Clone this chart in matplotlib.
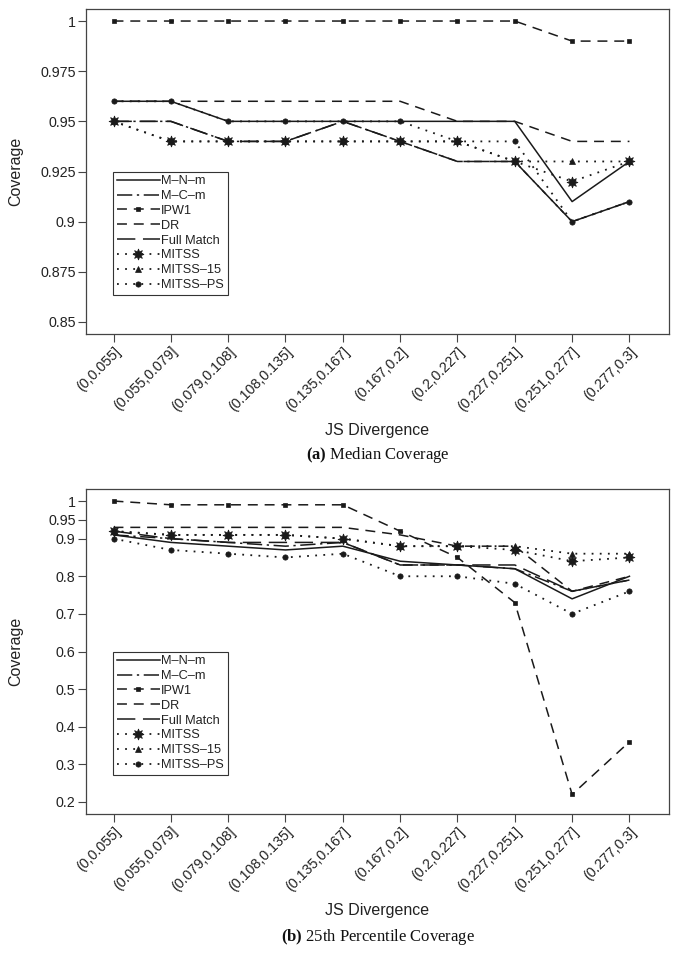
import matplotlib
matplotlib.use("Agg")
import matplotlib.pyplot as plt

plt.rcParams['font.family'] = ['Liberation Sans', 'DejaVu Sans']
plt.rcParams['mathtext.fontset'] = 'custom'
plt.rcParams['mathtext.rm'] = 'Liberation Serif'
plt.rcParams['mathtext.bf'] = 'Liberation Serif:bold'

BINS = ["(0,0.055]", "(0.055,0.079]", "(0.079,0.108]", "(0.108,0.135]", "(0.135,0.167]",
        "(0.167,0.2]", "(0.2,0.227]", "(0.227,0.251]", "(0.251,0.277]", "(0.277,0.3]"]
X = list(range(1, 11))
NAMES = ["M\u2013N\u2013m", "M\u2013C\u2013m", "IPW1", "DR", "Full Match", "MITSS", "MITSS\u201315", "MITSS\u2013PS"]

# (a) median coverage
MED_MNM = [0.96, 0.96, 0.95, 0.95, 0.95, 0.95, 0.95, 0.95, 0.91, 0.93]
MED_MCM = [0.95, 0.95, 0.94, 0.94, 0.95, 0.94, 0.93, 0.93, 0.90, 0.91]
MED_IPW = [1.00, 1.00, 1.00, 1.00, 1.00, 1.00, 1.00, 1.00, 0.99, 0.99]
MED_DR = [0.96, 0.96, 0.96, 0.96, 0.96, 0.96, 0.95, 0.95, 0.94, 0.94]
MED_FULL = [0.95, 0.95, 0.94, 0.94, 0.95, 0.94, 0.93, 0.93, 0.90, 0.91]
MED_MITSS = [0.95, 0.94, 0.94, 0.94, 0.94, 0.94, 0.94, 0.93, 0.92, 0.93]
MED_M15 = [0.95, 0.94, 0.94, 0.94, 0.94, 0.94, 0.94, 0.93, 0.93, 0.93]
MED_MPS = [0.96, 0.96, 0.95, 0.95, 0.95, 0.95, 0.94, 0.94, 0.90, 0.91]

# (b) 25th percentile coverage
P25_MNM = [0.91, 0.89, 0.88, 0.87, 0.88, 0.84, 0.83, 0.82, 0.74, 0.80]
P25_MCM = [0.91, 0.90, 0.89, 0.88, 0.89, 0.83, 0.83, 0.82, 0.76, 0.79]
P25_IPW = [1.00, 0.99, 0.99, 0.99, 0.99, 0.92, 0.85, 0.73, 0.22, 0.36]
P25_DR = [0.93, 0.93, 0.93, 0.93, 0.93, 0.91, 0.88, 0.88, 0.76, 0.80]
P25_FULL = [0.92, 0.90, 0.89, 0.89, 0.89, 0.83, 0.83, 0.83, 0.76, 0.79]
P25_MITSS = [0.92, 0.91, 0.91, 0.91, 0.90, 0.88, 0.88, 0.87, 0.84, 0.85]
P25_M15 = [0.92, 0.91, 0.91, 0.91, 0.90, 0.88, 0.88, 0.88, 0.86, 0.86]
P25_MPS = [0.90, 0.87, 0.86, 0.85, 0.86, 0.80, 0.80, 0.78, 0.70, 0.76]

MED = [MED_MNM, MED_MCM, MED_IPW, MED_DR, MED_FULL, MED_MITSS, MED_M15, MED_MPS]
P25 = [P25_MNM, P25_MCM, P25_IPW, P25_DR, P25_FULL, P25_MITSS, P25_M15, P25_MPS]

MED_TICKS = [0.85, 0.875, 0.9, 0.925, 0.95, 0.975, 1.0]
MED_TICKLABELS = ["0.85", "0.875", "0.9", "0.925", "0.95", "0.975", "1"]
P25_TICKS = [0.2, 0.3, 0.4, 0.5, 0.6, 0.7, 0.8, 0.9, 0.95, 1.0]
P25_TICKLABELS = ["0.2", "0.3", "0.4", "0.5", "0.6", "0.7", "0.8", "0.9", "0.95", "1"]

# line styles (dash pattern, marker, marker size, linewidth)
STYLES = [
    (None, None, 0, 1.1),
    ((10, 3, 1.5, 3), None, 0, 1.1),
    ((6.5, 4.5), "s", 3.4, 1.1),
    ((6.5, 4.5), None, 0, 1.1),
    ((12, 5), None, 0, 1.1),
    ((1, 3.5), (8, 1, 0), 8, 1.3),
    ((1, 3.5), "^", 4.8, 1.3),
    ((1, 3.5), "o", 3.8, 1.3),
]

INK = "#1a1a1a"
FRAME = "#444444"


def draw_panel(ax, series, ticks, ticklabels, ylim):
    for name, ys, (dash, mk, ms, lw) in zip(NAMES, series, STYLES):
        line, = ax.plot(X, ys, color=INK, lw=lw, marker=mk, ms=ms,
                        mfc=INK, mec=INK, mew=0.5, label=name)
        if dash is not None:
            line.set_dashes(dash)
    ax.set_xlim(0.52, 10.69)
    ax.set_ylim(*ylim)
    ax.set_xticks(X)
    ax.set_xticklabels(BINS, rotation=45, ha="right", va="top", rotation_mode="anchor")
    ax.set_yticks(ticks)
    ax.set_yticklabels(ticklabels)
    ax.tick_params(direction="out", length=5.5, width=0.8, color=FRAME,
                   labelsize=10.3, labelcolor="#222222", pad=2)
    for s in ax.spines.values():
        s.set_color(FRAME)
        s.set_linewidth(0.9)
    leg = ax.legend(loc="upper left", bbox_to_anchor=(0.046, 0.50), borderaxespad=0,
                    fontsize=9.2, handlelength=3.4, handletextpad=0.1, labelspacing=0.22,
                    borderpad=0.3, numpoints=1, fancybox=False, framealpha=1)
    leg.get_frame().set_edgecolor("#333333")
    leg.get_frame().set_linewidth(0.8)
    for t in leg.get_texts():
        t.set_color("#222222")


fig = plt.figure(figsize=(6.79, 9.56), dpi=100)
ax1 = fig.add_axes([86 / 679, 1 - 334 / 956, 583 / 679, 325 / 956])
ax2 = fig.add_axes([86 / 679, 1 - 814 / 956, 583 / 679, 325 / 956])

draw_panel(ax1, MED, MED_TICKS, MED_TICKLABELS, (0.844, 1.006))
draw_panel(ax2, P25, P25_TICKS, P25_TICKLABELS, (0.168, 1.032))

cx = (86 + 669) / 2 / 679
for ycov, yjs, ycap, tag, cap in [(171.5, 430, 455, "(a)", "Median Coverage"),
                                  (651.5, 911, 937, "(b)", "25th Percentile Coverage")]:
    fig.text(16 / 679, 1 - ycov / 956, "Coverage", rotation=90, ha="center", va="center",
             fontsize=11.5, color="#222222")
    fig.text(cx, 1 - yjs / 956, "JS Divergence", ha="center", va="center",
             fontsize=11.5, color="#222222")
    fig.text(cx, 1 - ycap / 956, r"$\mathbf{" + tag + r"}$ " + cap, ha="center", va="center",
             fontsize=12, family="Liberation Serif", color="#111111")

fig.savefig("out.png", dpi=100)
